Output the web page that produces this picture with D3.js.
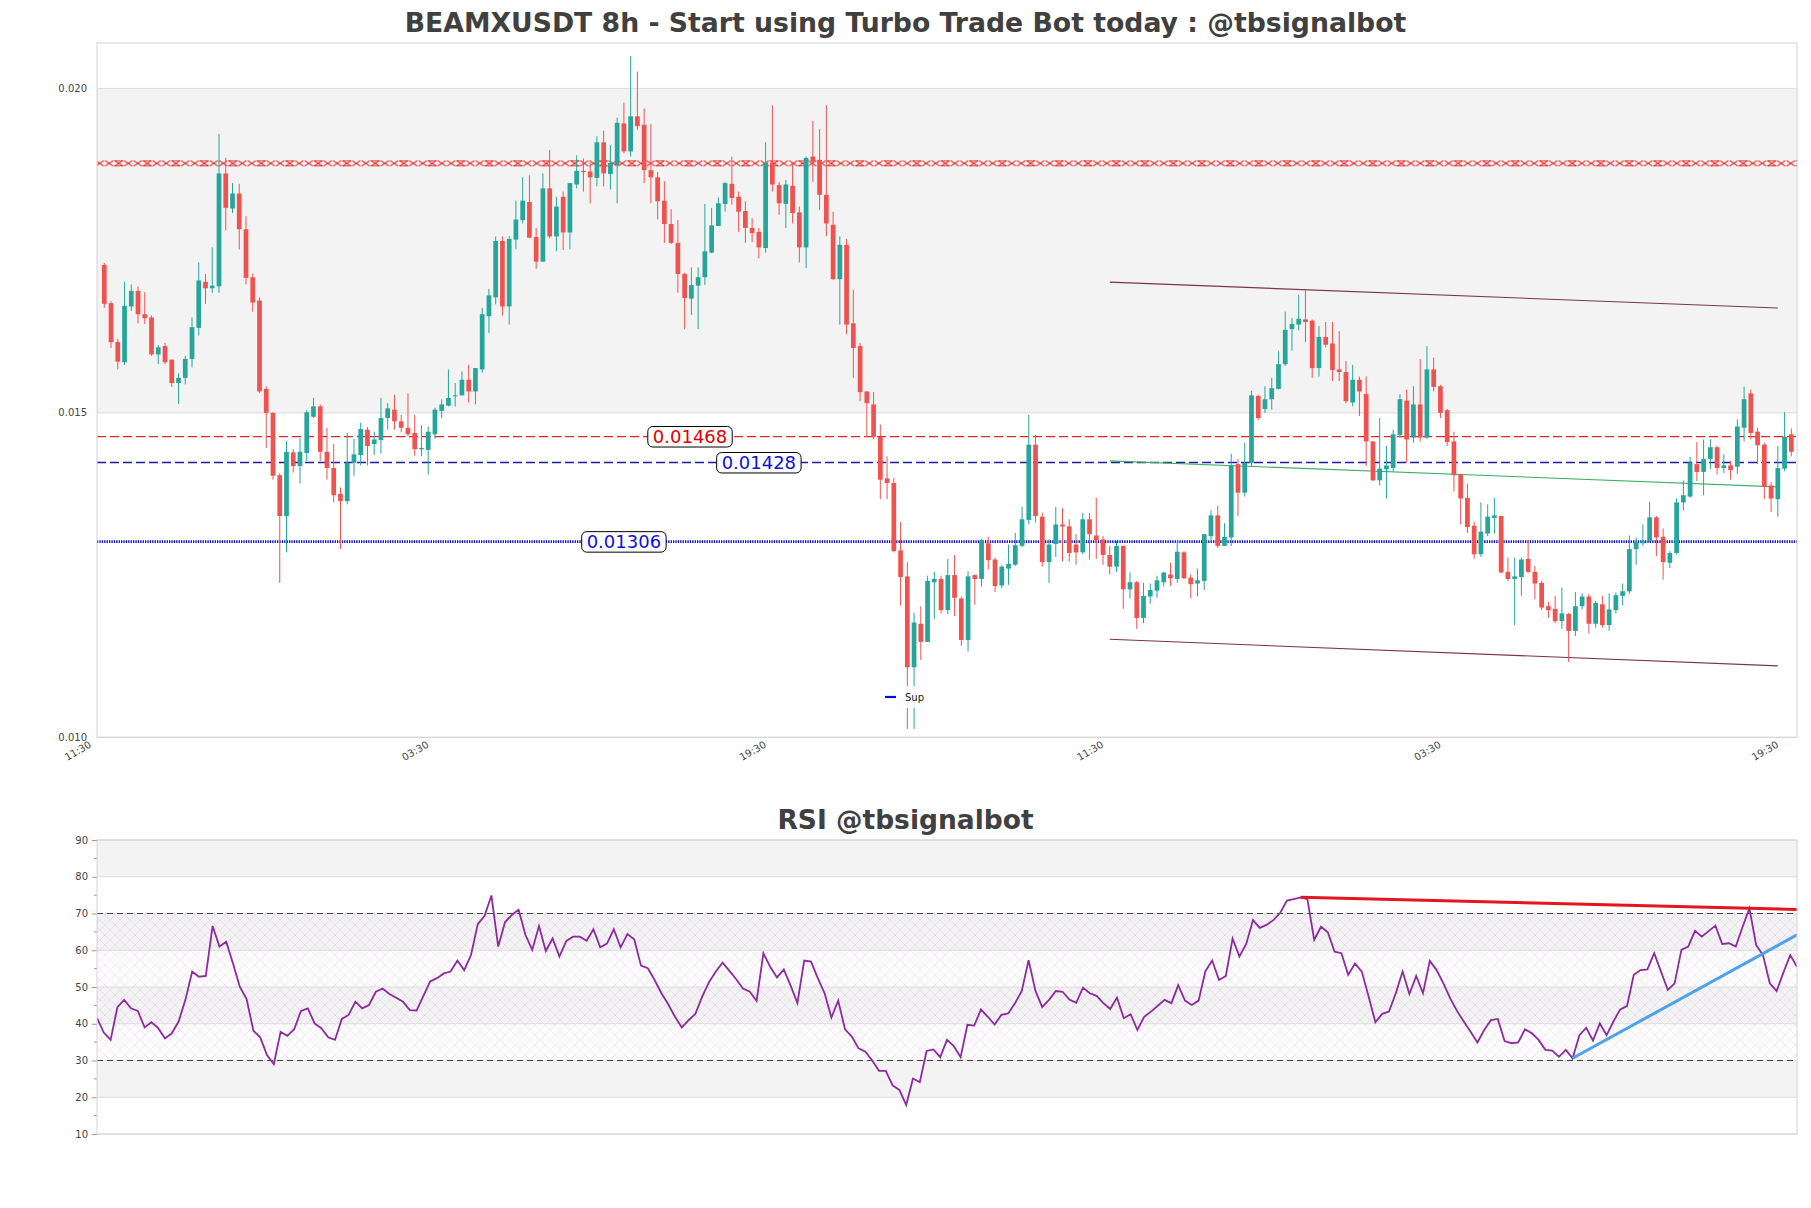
<!DOCTYPE html>
<html><head><meta charset="utf-8">
<script src="https://cdn.jsdelivr.net/npm/d3@7"></script>
<style>body{margin:0;background:#fff}svg{display:block}</style>
</head><body>
<svg id="c" width="1811" height="1208"></svg>
<script>
// ---------------- DATA ----------------
const titleMain = "BEAMXUSDT 8h - Start using Turbo Trade Bot today : @tbsignalbot";
const titleRsi = "RSI @tbsignalbot";
const xTickLabels = ["11:30","03:30","19:30","11:30","03:30","19:30"];
const xTickIndex = [-1,49,99,149,199,249];
const yTicksPrice = [0.010,0.015,0.020];
const yTicksRsi = [10,20,30,40,50,60,70,80,90];

const open = [0.01728,0.01669,0.01609,0.01578,0.01664,0.01688,0.01652,0.01647,0.01590,0.01603,
0.01582,0.01546,0.01554,0.01583,0.01631,0.01702,0.01692,0.01695,0.01869,0.01815,
0.01838,0.01783,0.01709,0.01673,0.01537,0.01500,0.01404,0.01341,0.01439,0.01418,
0.01438,0.01494,0.01510,0.01440,0.01415,0.01375,0.01364,0.01423,0.01435,0.01474,
0.01452,0.01458,0.01492,0.01505,0.01487,0.01477,0.01469,0.01444,0.01443,0.01467,
0.01503,0.01511,0.01526,0.01527,0.01551,0.01533,0.01567,0.01649,0.01678,0.01765,
0.01664,0.01767,0.01797,0.01825,0.01771,0.01733,0.01846,0.01772,0.01833,0.01778,
0.01852,0.01873,0.01872,0.01862,0.01917,0.01868,0.01882,0.01946,0.01903,0.01957,
0.01944,0.01874,0.01863,0.01827,0.01791,0.01762,0.01714,0.01676,0.01696,0.01709,
0.01747,0.01788,0.01822,0.01853,0.01833,0.01811,0.01785,0.01779,0.01754,0.01886,
0.01851,0.01822,0.01850,0.01809,0.01755,0.01895,0.01890,0.01836,0.01790,0.01706,
0.01759,0.01638,0.01603,0.01533,0.01513,0.01463,0.01399,0.01392,0.01288,0.01248,
0.01108,0.01175,0.01147,0.01239,0.01244,0.01196,0.01250,0.01214,0.01150,0.01250,
0.01244,0.01299,0.01274,0.01234,0.01260,0.01266,0.01295,0.01335,0.01451,0.01340,
0.01270,0.01298,0.01328,0.01325,0.01297,0.01285,0.01336,0.01311,0.01305,0.01281,
0.01263,0.01295,0.01228,0.01239,0.01184,0.01217,0.01226,0.01239,0.01251,0.01244,
0.01285,0.01246,0.01237,0.01241,0.01310,0.01342,0.01295,0.01308,0.01421,0.01377,
0.01423,0.01526,0.01506,0.01521,0.01537,0.01575,0.01629,0.01636,0.01644,0.01642,
0.01569,0.01617,0.01607,0.01567,0.01563,0.01516,0.01551,0.01529,0.01456,0.01396,
0.01413,0.01415,0.01466,0.01519,0.01462,0.01513,0.01462,0.01567,0.01541,0.01504,
0.01456,0.01405,0.01369,0.01326,0.01282,0.01314,0.01338,0.01341,0.01255,0.01244,
0.01247,0.01275,0.01255,0.01238,0.01202,0.01198,0.01179,0.01190,0.01164,0.01202,
0.01217,0.01175,0.01205,0.01173,0.01196,0.01218,0.01225,0.01290,0.01299,0.01303,
0.01339,0.01309,0.01269,0.01284,0.01362,0.01371,0.01421,0.01409,0.01429,0.01447,
0.01415,0.01419,0.01417,0.01477,0.01530,0.01471,0.01451,0.01388,0.01367,0.01414,
0.01467];
const high = [0.01731,0.01672,0.01614,0.01702,0.01698,0.01695,0.01686,0.01650,0.01604,0.01608,
0.01582,0.01561,0.01588,0.01647,0.01732,0.01714,0.01755,0.01930,0.01893,0.01854,
0.01853,0.01803,0.01715,0.01678,0.01541,0.01501,0.01407,0.01457,0.01444,0.01461,
0.01504,0.01523,0.01513,0.01477,0.01452,0.01385,0.01469,0.01460,0.01485,0.01478,
0.01471,0.01523,0.01515,0.01528,0.01497,0.01530,0.01497,0.01481,0.01479,0.01508,
0.01521,0.01567,0.01546,0.01564,0.01574,0.01569,0.01662,0.01691,0.01772,0.01772,
0.01772,0.01827,0.01863,0.01866,0.01785,0.01869,0.01905,0.01833,0.01841,0.01854,
0.01897,0.01892,0.01887,0.01926,0.01935,0.01913,0.01955,0.01978,0.02050,0.02026,
0.01969,0.01945,0.01871,0.01857,0.01814,0.01797,0.01716,0.01724,0.01724,0.01822,
0.01816,0.01832,0.01856,0.01895,0.01841,0.01826,0.01800,0.01785,0.01917,0.01974,
0.01856,0.01859,0.01885,0.01818,0.01895,0.01950,0.01937,0.01974,0.01810,0.01772,
0.01768,0.01690,0.01608,0.01533,0.01532,0.01482,0.01433,0.01400,0.01332,0.01270,
0.01192,0.01202,0.01249,0.01255,0.01249,0.01275,0.01281,0.01217,0.01256,0.01251,
0.01306,0.01309,0.01277,0.01265,0.01297,0.01315,0.01355,0.01497,0.01466,0.01346,
0.01305,0.01355,0.01353,0.01336,0.01313,0.01346,0.01346,0.01369,0.01310,0.01295,
0.01303,0.01295,0.01254,0.01241,0.01238,0.01237,0.01249,0.01255,0.01269,0.01303,
0.01287,0.01251,0.01260,0.01313,0.01350,0.01357,0.01330,0.01437,0.01429,0.01454,
0.01534,0.01528,0.01541,0.01554,0.01595,0.01656,0.01646,0.01682,0.01690,0.01644,
0.01634,0.01640,0.01640,0.01626,0.01580,0.01574,0.01556,0.01556,0.01456,0.01492,
0.01449,0.01474,0.01529,0.01536,0.01541,0.01583,0.01603,0.01585,0.01543,0.01506,
0.01471,0.01405,0.01391,0.01332,0.01362,0.01359,0.01369,0.01341,0.01277,0.01277,
0.01277,0.01303,0.01264,0.01241,0.01209,0.01218,0.01231,0.01192,0.01224,0.01222,
0.01221,0.01210,0.01218,0.01222,0.01223,0.01237,0.01311,0.01308,0.01328,0.01363,
0.01341,0.01322,0.01287,0.01368,0.01396,0.01432,0.01455,0.01459,0.01459,0.01449,
0.01436,0.01426,0.01490,0.01540,0.01536,0.01477,0.01454,0.01393,0.01449,0.01501,
0.01476];
const low = [0.01662,0.01600,0.01567,0.01574,0.01657,0.01638,0.01637,0.01588,0.01575,0.01575,
0.01540,0.01514,0.01544,0.01570,0.01619,0.01668,0.01685,0.01685,0.01781,0.01808,
0.01752,0.01698,0.01656,0.01531,0.01446,0.01397,0.01238,0.01285,0.01408,0.01391,
0.01426,0.01492,0.01426,0.01397,0.01362,0.01290,0.01359,0.01403,0.01419,0.01419,
0.01435,0.01437,0.01474,0.01474,0.01470,0.01464,0.01434,0.01433,0.01405,0.01460,
0.01492,0.01510,0.01510,0.01527,0.01516,0.01513,0.01562,0.01623,0.01667,0.01650,
0.01636,0.01752,0.01792,0.01769,0.01722,0.01733,0.01769,0.01749,0.01751,0.01752,
0.01846,0.01841,0.01823,0.01849,0.01849,0.01844,0.01823,0.01900,0.01895,0.01936,
0.01854,0.01823,0.01798,0.01762,0.01760,0.01685,0.01629,0.01651,0.01629,0.01697,
0.01746,0.01788,0.01810,0.01821,0.01779,0.01762,0.01763,0.01738,0.01747,0.01841,
0.01805,0.01785,0.01792,0.01732,0.01723,0.01856,0.01813,0.01772,0.01705,0.01636,
0.01621,0.01554,0.01518,0.01463,0.01460,0.01367,0.01367,0.01285,0.01203,0.01013,
0.01013,0.01119,0.01147,0.01182,0.01191,0.01190,0.01187,0.01141,0.01132,0.01204,
0.01232,0.01259,0.01224,0.01230,0.01235,0.01264,0.01293,0.01328,0.01331,0.01263,
0.01238,0.01278,0.01271,0.01271,0.01266,0.01282,0.01274,0.01275,0.01266,0.01251,
0.01255,0.01198,0.01214,0.01167,0.01176,0.01206,0.01215,0.01232,0.01233,0.01238,
0.01244,0.01214,0.01217,0.01227,0.01304,0.01292,0.01295,0.01295,0.01341,0.01371,
0.01418,0.01489,0.01500,0.01505,0.01536,0.01572,0.01596,0.01627,0.01609,0.01554,
0.01556,0.01601,0.01549,0.01549,0.01515,0.01510,0.01495,0.01418,0.01395,0.01388,
0.01368,0.01410,0.01462,0.01423,0.01454,0.01456,0.01460,0.01533,0.01492,0.01449,
0.01379,0.01328,0.01315,0.01275,0.01278,0.01310,0.01314,0.01253,0.01241,0.01173,
0.01218,0.01253,0.01213,0.01196,0.01184,0.01176,0.01167,0.01116,0.01156,0.01197,
0.01160,0.01169,0.01169,0.01164,0.01191,0.01203,0.01221,0.01266,0.01295,0.01301,
0.01279,0.01243,0.01261,0.01282,0.01349,0.01369,0.01395,0.01373,0.01413,0.01405,
0.01407,0.01397,0.01406,0.01456,0.01459,0.01421,0.01367,0.01347,0.01340,0.01410,
0.01433];
const close = [0.01668,0.01609,0.01579,0.01665,0.01688,0.01652,0.01646,0.01590,0.01601,0.01578,
0.01546,0.01554,0.01583,0.01632,0.01704,0.01692,0.01696,0.01869,0.01816,0.01838,
0.01783,0.01708,0.01670,0.01533,0.01500,0.01403,0.01341,0.01440,0.01418,0.01440,
0.01501,0.01510,0.01440,0.01415,0.01373,0.01364,0.01423,0.01436,0.01475,0.01449,
0.01459,0.01492,0.01507,0.01487,0.01477,0.01467,0.01444,0.01446,0.01471,0.01505,
0.01513,0.01523,0.01527,0.01551,0.01533,0.01569,0.01652,0.01681,0.01765,0.01664,
0.01768,0.01798,0.01827,0.01770,0.01733,0.01846,0.01772,0.01818,0.01778,0.01854,
0.01873,0.01871,0.01863,0.01917,0.01869,0.01885,0.01947,0.01903,0.01957,0.01942,
0.01874,0.01863,0.01826,0.01791,0.01762,0.01714,0.01677,0.01697,0.01709,0.01749,
0.01789,0.01823,0.01854,0.01831,0.01810,0.01785,0.01777,0.01755,0.01886,0.01852,
0.01823,0.01852,0.01808,0.01755,0.01893,0.01887,0.01836,0.01792,0.01706,0.01759,
0.01636,0.01600,0.01532,0.01515,0.01463,0.01397,0.01392,0.01287,0.01247,0.01108,
0.01177,0.01147,0.01241,0.01244,0.01196,0.01250,0.01215,0.01150,0.01248,0.01244,
0.01303,0.01273,0.01233,0.01263,0.01267,0.01296,0.01336,0.01451,0.01341,0.01270,
0.01297,0.01328,0.01325,0.01284,0.01285,0.01336,0.01313,0.01304,0.01281,0.01263,
0.01295,0.01228,0.01239,0.01184,0.01218,0.01227,0.01242,0.01254,0.01245,0.01286,
0.01245,0.01236,0.01242,0.01313,0.01342,0.01295,0.01309,0.01419,0.01377,0.01423,
0.01527,0.01492,0.01521,0.01538,0.01575,0.01628,0.01637,0.01645,0.01640,0.01569,
0.01617,0.01605,0.01566,0.01563,0.01518,0.01551,0.01533,0.01456,0.01396,0.01414,
0.01419,0.01467,0.01521,0.01459,0.01513,0.01462,0.01567,0.01540,0.01500,0.01455,
0.01404,0.01368,0.01324,0.01282,0.01317,0.01340,0.01342,0.01254,0.01244,0.01248,
0.01274,0.01255,0.01237,0.01200,0.01196,0.01179,0.01191,0.01164,0.01202,0.01217,
0.01175,0.01207,0.01173,0.01197,0.01219,0.01225,0.01290,0.01301,0.01303,0.01339,
0.01308,0.01270,0.01284,0.01362,0.01373,0.01423,0.01409,0.01429,0.01447,0.01415,
0.01419,0.01412,0.01479,0.01521,0.01469,0.01450,0.01386,0.01368,0.01415,0.01463,
0.01440];

const rsi = [41.5,37.6,35.6,44.5,46.5,44.2,43.5,39.0,40.4,38.8,
36.0,37.4,40.6,46.5,54.2,52.8,53.0,66.6,61.0,62.3,
56.4,50.1,46.7,38.1,36.3,31.5,29.0,37.8,36.7,38.5,
43.5,44.2,40.1,38.8,36.3,35.6,41.3,42.4,46.0,44.2,
45.1,48.7,49.6,48.1,47.1,46.0,43.7,43.6,47.6,51.5,
52.4,53.7,54.2,57.2,54.6,58.7,67.1,69.4,74.9,61.0,
67.6,69.6,71.0,64.2,60.1,66.6,59.8,63.2,58.3,62.5,
63.7,63.7,62.6,65.7,60.8,61.8,65.7,60.8,64.4,63.0,
55.8,55.1,51.9,48.3,45.3,41.9,39.0,41.0,42.7,47.4,
51.3,54.2,56.6,54.4,52.1,49.6,48.7,46.2,59.2,55.5,
52.6,54.8,50.4,45.6,57.2,56.9,52.4,48.3,41.7,46.3,
38.5,36.5,33.3,32.4,30.0,27.2,27.2,23.2,22.0,17.9,
25.1,24.1,32.6,33.0,30.9,35.6,33.9,30.9,39.7,39.5,
43.9,41.9,39.8,42.4,42.8,45.6,48.9,57.3,49.0,44.5,
46.5,48.9,48.7,46.6,45.7,49.8,48.3,47.6,45.6,44.0,
47.1,41.5,42.6,38.3,41.9,43.3,44.9,46.5,45.6,50.5,
46.3,45.1,46.3,54.3,57.2,51.9,53.0,63.2,58.3,61.7,
68.2,66.1,66.9,68.2,70.2,73.5,73.9,74.4,73.9,62.8,
66.4,64.9,59.6,59.2,53.3,56.4,54.2,47.4,40.4,42.7,
43.3,48.3,54.2,48.1,53.0,48.3,57.1,54.6,51.0,46.9,
43.5,40.6,37.8,34.9,38.3,41.0,41.3,35.3,34.7,34.9,
38.5,37.4,35.6,32.9,32.7,31.0,32.9,30.6,36.9,38.9,
35.4,40.1,36.9,40.6,43.9,44.8,53.3,54.6,54.8,59.2,
54.2,49.2,51.0,60.1,61.0,65.3,63.7,65.2,66.7,61.7,
61.9,61.0,66.4,71.4,61.4,58.7,51.0,48.9,53.9,58.7,
55.5];

// horizontal levels: drawn position (price) and printed label
const levelValues = [0.014635, 0.014235, 0.013015];
const levelLabels = ["0.01468", "0.01428", "0.01306"];
const levelLabelIndex = [86.8, 97, 77];
const hatchBand = [0.01880, 0.01889];
// trend / channel lines: [index, price]
const channelUpper = [[149, 0.017015], [248, 0.016615]];
const channelLower = [[149, 0.01151], [248, 0.01110]];
const channelMid = [[149, 0.01426], [248, 0.01386]];
// RSI trend lines: [index, rsi]
const rsiResLine = [[177, 74.4], [250, 71.1]];
const rsiSupLine = [[217, 30.6], [250, 64.2]];
const rsiBandsGray = [[80,90],[60,70],[40,50],[20,30]];

// ---------------- DRAW ----------------
const FONT = "DejaVu Sans, Verdana, sans-serif";
const svg = d3.select("#c");
const defs = svg.append("defs");

const M = {l:97, r:1797, t:43, b:737.3};
const R = {l:97, r:1797, t:840, b:1134};
const N = close.length;

const x = d3.scaleLinear().domain([-1.08, 250.84]).range([M.l, M.r]);
const y = d3.scaleLinear().domain([0.010, 0.0207]).range([M.b, M.t]);
const xr = d3.scaleLinear().domain([0, N-1]).range([R.l, R.r]);
const yr = d3.scaleLinear().domain([10, 90]).range([R.b, R.t]);

defs.append("clipPath").attr("id","clipM").append("rect")
  .attr("x",M.l).attr("y",M.t).attr("width",M.r-M.l).attr("height",M.b-M.t);
defs.append("clipPath").attr("id","clipR").append("rect")
  .attr("x",R.l).attr("y",R.t).attr("width",R.r-R.l).attr("height",R.b-R.t);

// hatch patterns
const hh = Math.abs(y(hatchBand[0])-y(hatchBand[1]));
const hp = defs.append("pattern").attr("id","hatchRed").attr("patternUnits","userSpaceOnUse")
  .attr("width",9.5).attr("height", hh).attr("y", y(hatchBand[1]));
hp.append("path").attr("d",`M0.5,0L9,${hh}M9,0L0.5,${hh}`).attr("stroke","#e02525").attr("stroke-width",1).attr("fill","none");
const hp2 = defs.append("pattern").attr("id","hatchRedBars").attr("patternUnits","userSpaceOnUse")
  .attr("width",28.5).attr("height", hh).attr("y", y(hatchBand[1]));
hp2.append("path").attr("d",`M0.5,0.5H9M0.5,${hh-0.5}H9`).attr("stroke","#e02525").attr("stroke-width",0.9).attr("fill","none");

const rp = defs.append("pattern").attr("id","hatchRsi").attr("patternUnits","userSpaceOnUse")
  .attr("width",10).attr("height",10);
rp.append("path").attr("d","M0,0L10,10M10,0L0,10")
  .attr("stroke","rgba(175,140,195,0.3)").attr("stroke-width",0.6).attr("fill","none");

// ---- Titles
svg.append("text").attr("x",905.5).attr("y",32).attr("text-anchor","middle")
  .attr("font-family",FONT).attr("font-weight","bold").attr("font-size",26.7).attr("fill","#404040")
  .text(titleMain);
svg.append("text").attr("x",905.5).attr("y",829).attr("text-anchor","middle")
  .attr("font-family",FONT).attr("font-weight","bold").attr("font-size",26.5).attr("fill","#404040")
  .text(titleRsi);

// ---- Main panel background band
const gM = svg.append("g");
gM.append("rect").attr("x",M.l).attr("width",M.r-M.l)
  .attr("y",y(0.020)).attr("height",y(0.015)-y(0.020)).attr("fill","#f3f3f3");
gM.selectAll("line.grid").data(yTicksPrice).join("line")
  .attr("x1",M.l).attr("x2",M.r).attr("y1",d=>y(d)).attr("y2",d=>y(d))
  .attr("stroke","#dcdcdc").attr("stroke-width",1);
gM.selectAll("text.yt").data(yTicksPrice).join("text")
  .attr("x",M.l-10).attr("y",d=>y(d)).attr("dy","0.35em").attr("text-anchor","end")
  .attr("font-family",FONT).attr("font-size",10).attr("fill","#444")
  .text(d=>d3.format(".3f")(d));
gM.selectAll("text.xt").data(xTickIndex).join("text")
  .attr("transform",d=>`translate(${x(d)-9},${M.b+3}) rotate(-30)`)
  .attr("text-anchor","end").attr("dominant-baseline","hanging")
  .attr("font-family",FONT).attr("font-size",10).attr("fill","#444")
  .text((d,i)=>xTickLabels[i]);

const gC = svg.append("g").attr("clip-path","url(#clipM)");

// hatch band
gC.append("rect").attr("x",M.l).attr("width",M.r-M.l)
  .attr("y",y(hatchBand[1])).attr("height",hh).attr("fill","url(#hatchRed)");
gC.append("rect").attr("x",M.l).attr("width",M.r-M.l)
  .attr("y",y(hatchBand[1])).attr("height",hh).attr("fill","url(#hatchRedBars)");

// horizontal levels
const levelStyle = [
  {stroke:"#e02828", w:1.3, dash:"9,4", text:"#e00000"},
  {stroke:"#1c1c9c", w:1.3, dash:"9,4", text:"#1010d8"},
  {stroke:"#0a0ad0", w:2.6, dash:"1.3,1.1", text:"#1010d8"}
];
levelValues.forEach((v,k)=>{
  gC.append("line").attr("x1",M.l).attr("x2",M.r).attr("y1",y(v)).attr("y2",y(v))
    .attr("stroke",levelStyle[k].stroke).attr("stroke-width",levelStyle[k].w).attr("stroke-dasharray",levelStyle[k].dash);
});

// channel lines
const lineM = d3.line().x(d=>x(d[0])).y(d=>y(d[1]));
gC.append("path").attr("d",lineM(channelUpper)).attr("stroke","#7a3546").attr("stroke-width",1.1).attr("fill","none");
gC.append("path").attr("d",lineM(channelLower)).attr("stroke","#7a3546").attr("stroke-width",1.1).attr("fill","none");
gC.append("path").attr("d",lineM(channelMid)).attr("stroke","#3fae66").attr("stroke-width",1.1).attr("fill","none");

// candles
const idx = d3.range(N);
const bw = (x(1)-x(0))*0.7;
const col = i => close[i] >= open[i] ? "#26a69a" : "#ef5350";
gC.selectAll("line.wick").data(idx).join("line")
  .attr("x1",i=>x(i)).attr("x2",i=>x(i)).attr("y1",i=>y(high[i])).attr("y2",i=>y(low[i]))
  .attr("stroke",col).attr("stroke-width",1);
gC.selectAll("rect.body").data(idx).join("rect")
  .attr("x",i=>x(i)-bw/2).attr("width",bw)
  .attr("y",i=>y(Math.max(open[i],close[i])))
  .attr("height",i=>Math.max(1,Math.abs(y(open[i])-y(close[i]))))
  .attr("fill",col);

// level labels
levelValues.forEach((v,k)=>{
  const g = gC.append("g");
  const t = g.append("text").attr("x",x(levelLabelIndex[k])).attr("y",y(v)).attr("dy","0.36em")
    .attr("text-anchor","middle").attr("font-family",FONT).attr("font-size",18).attr("fill",levelStyle[k].text)
    .text(levelLabels[k]);
  const bb = t.node().getBBox();
  g.insert("rect","text").attr("x",bb.x-5).attr("y",bb.y+0.5).attr("width",bb.width+10).attr("height",bb.height-0.5)
    .attr("rx",5).attr("fill","#fff").attr("stroke","#000").attr("stroke-width",1);
});

// legend
const lg = svg.append("g");
lg.append("rect").attr("x",877).attr("y",686).attr("width",54).attr("height",22).attr("fill","#fff").attr("opacity",0.85);
lg.append("line").attr("x1",885).attr("x2",896).attr("y1",697).attr("y2",697).attr("stroke","#0a0ad0").attr("stroke-width",2.2);
lg.append("text").attr("x",905).attr("y",697).attr("dy","0.35em").attr("font-family",FONT).attr("font-size",10).attr("fill","#222").text("Sup");

// spines main
svg.append("rect").attr("x",M.l).attr("y",M.t).attr("width",M.r-M.l).attr("height",M.b-M.t)
  .attr("fill","none").attr("stroke","#d4d4d4").attr("stroke-width",1);

// ---- RSI panel
const gR = svg.append("g");
gR.selectAll("rect.band").data(rsiBandsGray).join("rect")
  .attr("x",R.l).attr("width",R.r-R.l).attr("y",d=>yr(d[1])).attr("height",d=>yr(d[0])-yr(d[1]))
  .attr("fill","#f3f3f3");
gR.append("rect").attr("x",R.l).attr("width",R.r-R.l).attr("y",yr(70)).attr("height",yr(30)-yr(70))
  .attr("fill","url(#hatchRsi)");
gR.selectAll("line.g").data(yTicksRsi).join("line")
  .attr("x1",R.l).attr("x2",R.r).attr("y1",d=>yr(d)).attr("y2",d=>yr(d))
  .attr("stroke","#dcdcdc").attr("stroke-width",1);
[30,70].forEach(v=>{
  gR.append("line").attr("x1",R.l).attr("x2",R.r).attr("y1",yr(v)).attr("y2",yr(v))
    .attr("stroke","#444").attr("stroke-width",1.1).attr("stroke-dasharray","6,4");
});
const ax = d3.axisLeft(yr).tickValues(yTicksRsi).tickSize(5).tickPadding(4).tickFormat(d3.format("d"));
const axg = gR.append("g").attr("transform",`translate(${R.l},0)`).call(ax);
axg.select(".domain").remove();
axg.selectAll("line").attr("stroke","#999");
axg.selectAll("text").attr("font-family",FONT).attr("font-size",10).attr("fill","#444");
const minor = d3.range(15,90,10);
gR.selectAll("line.minor").data(minor).join("line")
  .attr("x1",R.l-3).attr("x2",R.l).attr("y1",d=>yr(d)).attr("y2",d=>yr(d)).attr("stroke","#999");

const gRc = gR.append("g").attr("clip-path","url(#clipR)");
const lineR = d3.line().x((d,i)=>xr(i)).y(d=>yr(d));
gRc.append("path").attr("d",lineR(rsi)).attr("stroke","#8e2a9e").attr("stroke-width",1.8).attr("fill","none");
const lineT = d3.line().x(d=>xr(d[0])).y(d=>yr(d[1]));
gRc.append("path").attr("d",lineT(rsiResLine)).attr("stroke","#e3161e").attr("stroke-width",3).attr("fill","none");
gRc.append("path").attr("d",lineT(rsiSupLine)).attr("stroke","#4da3ea").attr("stroke-width",3).attr("fill","none");

svg.append("rect").attr("x",R.l).attr("y",R.t).attr("width",R.r-R.l).attr("height",R.b-R.t)
  .attr("fill","none").attr("stroke","#d4d4d4").attr("stroke-width",1);
</script>
</body></html>
